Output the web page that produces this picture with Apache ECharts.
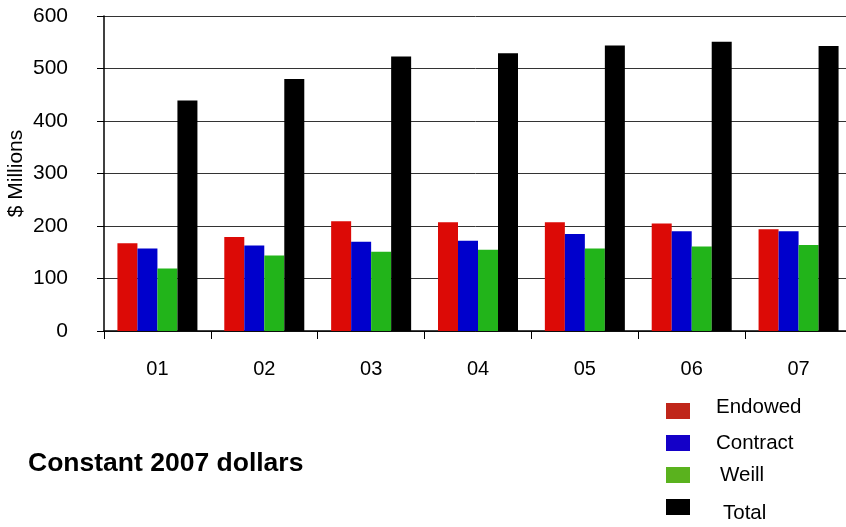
<!DOCTYPE html>
<html>
<head>
<meta charset="utf-8">
<style>
  html, body { margin: 0; padding: 0; background: #fff; }
  #chart { width: 846px; height: 527px; }
</style>
<script src="https://cdn.jsdelivr.net/npm/echarts@6/dist/echarts.min.js"></script>
</head>
<body>
<div id="chart"></div>
<script>
// Fiscal years (two-digit labels)
const years = ['01', '02', '03', '04', '05', '06', '07'];

// Funding by source, $ millions, constant 2007 dollars
const endowed  = [167, 179, 209, 207, 207, 205, 194];
const contract = [157, 163, 170, 172, 185, 190, 190];
const weill    = [119, 144, 151, 155, 157, 161, 164];
const total    = [439, 480, 523, 529, 544, 551, 543];

const yTicks = { min: 0, max: 600, interval: 100 };

// Legend entries and swatch colours
const legendNames  = ['Endowed', 'Contract', 'Weill', 'Total'];
const legendColors = ['#c0261a', '#1400c8', '#5ab21e', '#000000'];

const FONT = '"Liberation Sans", Arial, sans-serif';

const chart = echarts.init(document.getElementById('chart'), null, { renderer: 'canvas' });

function barSeries(name, data, color) {
  return {
    name: name,
    type: 'bar',
    data: data,
    barWidth: 20,
    barGap: '0%',
    itemStyle: { color: color },
    animation: false
  };
}

// Hand-placed legend block below the plot, on the right
const legendTextDx = [50, 50, 54, 57];
const legendTextDy = [-4, 0, 0, 6];
const legendGraphics = [];
legendNames.forEach(function (name, i) {
  const y = 403 + i * 32;
  legendGraphics.push({
    type: 'rect',
    left: 666,
    top: y,
    shape: { width: 24, height: 16 },
    style: { fill: legendColors[i] },
    silent: true
  });
  legendGraphics.push({
    type: 'text',
    x: 666 + legendTextDx[i],
    y: y + 8 + legendTextDy[i],
    style: {
      text: name,
      font: '20.5px ' + FONT,
      fill: '#000',
      verticalAlign: 'middle'
    },
    silent: true
  });
});

chart.setOption({
  animation: false,
  backgroundColor: '#ffffff',
  textStyle: { fontFamily: FONT },
  title: {
    text: 'Constant 2007 dollars',
    left: 28,
    top: 450,
    padding: 0,
    textStyle: { fontFamily: FONT, fontSize: 26.5, fontWeight: 'bold', color: '#000' }
  },
  graphic: legendGraphics,
  grid: {
    left: 104,
    top: 16,
    width: 748,
    height: 315,
    containLabel: false,
    outerBoundsMode: 'none'
  },
  xAxis: {
    type: 'category',
    data: years,
    axisLine: { show: true, lineStyle: { color: '#000', width: 1.5 } },
    axisTick: { show: true, alignWithLabel: false, length: 8, lineStyle: { color: '#000', width: 1 } },
    axisLabel: { fontFamily: FONT, fontSize: 20, color: '#000', margin: 28 },
    splitLine: { show: false }
  },
  yAxis: {
    type: 'value',
    min: yTicks.min,
    max: yTicks.max,
    interval: yTicks.interval,
    name: '$ Millions',
    nameLocation: 'middle',
    nameGap: 77,
    nameRotate: 90,
    nameMoveOverlap: false,
    nameTextStyle: { fontFamily: FONT, fontSize: 21, color: '#000' },
    axisLine: { show: true, lineStyle: { color: '#000', width: 1.5 } },
    axisTick: { show: true, inside: false, length: 7, lineStyle: { color: '#000', width: 1 } },
    axisLabel: { fontFamily: FONT, fontSize: 21, color: '#000', margin: 36 },
    splitLine: { show: true, lineStyle: { color: '#333', width: 1 } }
  },
  series: [
    barSeries('Endowed',  endowed,  '#dc0a06'),
    barSeries('Contract', contract, '#0000cc'),
    barSeries('Weill',    weill,    '#22b41a'),
    barSeries('Total',    total,    '#000000')
  ]
});
</script>
</body>
</html>
